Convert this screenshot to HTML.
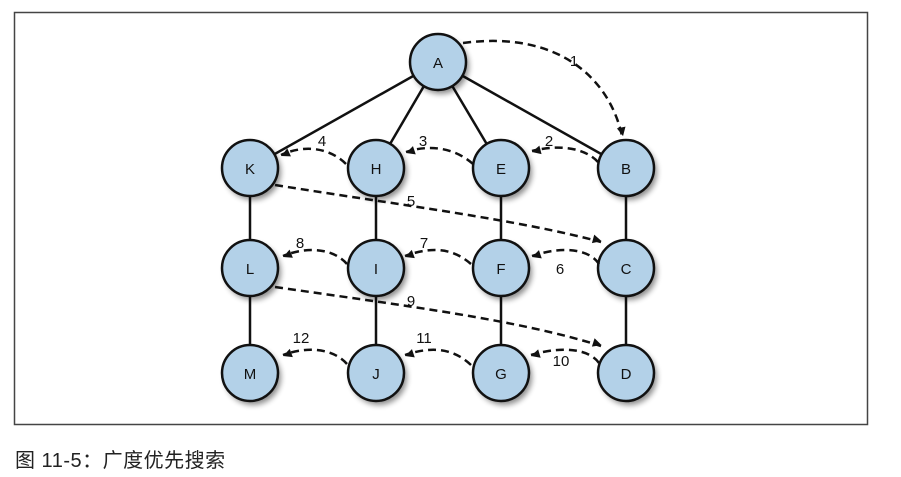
<!DOCTYPE html>
<html><head><meta charset="utf-8"><style>
html,body{margin:0;padding:0;background:#fff;width:901px;height:477px;overflow:hidden}
svg{position:absolute;left:0;top:0}
.cap{position:absolute;left:15px;top:444px;font:20px "Liberation Sans","Noto Sans CJK SC",sans-serif;color:#222;letter-spacing:0.5px}
</style></head><body>
<svg width="901" height="477" viewBox="0 0 901 477">
<defs>
<marker id="ah" viewBox="0 0 10 10" refX="9" refY="5" markerWidth="5.5" markerHeight="5.5" orient="auto-start-reverse" markerUnits="userSpaceOnUse" style="overflow:visible">
<path d="M0,0 L10,5 L0,10 z" fill="#111" transform="scale(1.6) translate(-4,-3)"/>
</marker>
<filter id="sh" x="-50%" y="-50%" width="200%" height="200%"><feGaussianBlur stdDeviation="3"/></filter>
</defs>
<rect x="14.5" y="12.5" width="853" height="412" fill="none" stroke="#444" stroke-width="1.5"/>
<g stroke="#111" stroke-width="2.5" fill="none">
<line x1="438" y1="62" x2="250" y2="168"/>
<line x1="438" y1="62" x2="376" y2="168"/>
<line x1="438" y1="62" x2="501" y2="168"/>
<line x1="438" y1="62" x2="626" y2="168"/>
<line x1="250" y1="168" x2="250" y2="373"/>
<line x1="376" y1="168" x2="376" y2="373"/>
<line x1="501" y1="168" x2="501" y2="373"/>
<line x1="626" y1="168" x2="626" y2="373"/>
</g>
<g fill="#000" opacity="0.45" filter="url(#sh)">
<circle cx="441" cy="66" r="28"/>
<circle cx="253" cy="172" r="28"/><circle cx="379" cy="172" r="28"/><circle cx="504" cy="172" r="28"/><circle cx="629" cy="172" r="28"/>
<circle cx="253" cy="272" r="28"/><circle cx="379" cy="272" r="28"/><circle cx="504" cy="272" r="28"/><circle cx="629" cy="272" r="28"/>
<circle cx="253" cy="377" r="28"/><circle cx="379" cy="377" r="28"/><circle cx="504" cy="377" r="28"/><circle cx="629" cy="377" r="28"/>
</g>
<g fill="#b3d1e8" stroke="#111" stroke-width="2.5">
<circle cx="438" cy="62" r="28"/>
<circle cx="250" cy="168" r="28"/><circle cx="376" cy="168" r="28"/><circle cx="501" cy="168" r="28"/><circle cx="626" cy="168" r="28"/>
<circle cx="250" cy="268" r="28"/><circle cx="376" cy="268" r="28"/><circle cx="501" cy="268" r="28"/><circle cx="626" cy="268" r="28"/>
<circle cx="250" cy="373" r="28"/><circle cx="376" cy="373" r="28"/><circle cx="501" cy="373" r="28"/><circle cx="626" cy="373" r="28"/>
</g>
<g stroke="#111" stroke-width="2.5" fill="none" stroke-dasharray="8,5" marker-end="url(#ah)">
<path d="M463,43 C560,30 610,80 622,136"/>
<path d="M598,162 C585,148 560,144 532,151"/>
<path d="M473,164 C455,148 430,144 406,152"/>
<path d="M346,164 C330,148 305,144 281,155"/>
<path d="M275,185 C400,205 520,220 601,242"/>
<path d="M599,264 C590,250 565,245 532,256"/>
<path d="M471,264 C455,250 435,245 405,256"/>
<path d="M347,264 C335,250 310,245 283,256"/>
<path d="M275,287 C400,305 520,320 601,346"/>
<path d="M599,363 C590,350 565,345 531,355"/>
<path d="M471,365 C455,350 435,345 405,355"/>
<path d="M347,364 C335,350 310,345 283,355"/>
</g>
<g font-family="Liberation Sans Narrow, Liberation Sans, sans-serif" font-size="15" fill="#111" text-anchor="middle">
<text x="438" y="68">A</text>
<text x="250" y="174">K</text><text x="376" y="174">H</text><text x="501" y="174">E</text><text x="626" y="174">B</text>
<text x="250" y="274">L</text><text x="376" y="274">I</text><text x="501" y="274">F</text><text x="626" y="274">C</text>
<text x="250" y="379">M</text><text x="376" y="379">J</text><text x="501" y="379">G</text><text x="626" y="379">D</text>
<text x="574" y="66">1</text><text x="549" y="146">2</text><text x="423" y="146">3</text><text x="322" y="146">4</text>
<text x="411" y="206">5</text><text x="560" y="274">6</text><text x="424" y="248">7</text><text x="300" y="248">8</text>
<text x="411" y="306">9</text><text x="561" y="366">10</text><text x="424" y="343">11</text><text x="301" y="343">12</text>
</g>
</svg>
<div class="cap">图 11-5：广度优先搜索</div>
</body></html>
